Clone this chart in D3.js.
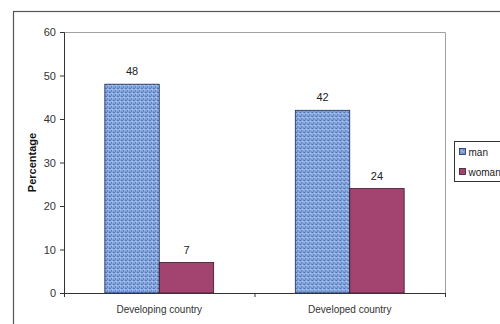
<!DOCTYPE html>
<html>
<head>
<meta charset="utf-8">
<script src="https://cdn.jsdelivr.net/npm/d3@7"></script>
<style>
  body { margin: 0; background: #fff; }
  svg { display: block; font-family: "Liberation Sans", Arial, sans-serif; }
</style>
</head>
<body>
<div id="chart"></div>
<script>
// data
const categories = ['Developing country', 'Developed country'];
const seriesNames = ['man', 'woman'];
const manValues = [48, 42];
const womanValues = [7, 24];
const yTicks = [0, 10, 20, 30, 40, 50, 60];

const W = 500, H = 324;
const M = { top: 32, right: 55, bottom: 31, left: 64 };

const svg = d3.select('#chart').append('svg').attr('width', W).attr('height', H);

// woven texture for the "man" bars
const defs = svg.append('defs');
const pat = defs.append('pattern').attr('id', 'weave')
  .attr('width', 4).attr('height', 4).attr('patternUnits', 'userSpaceOnUse');
pat.append('rect').attr('width', 4).attr('height', 4).attr('fill', '#8eaee2');
pat.append('rect').attr('x', 0).attr('y', 0).attr('width', 2).attr('height', 1).attr('fill', '#4f74b6');
pat.append('rect').attr('x', 2).attr('y', 2).attr('width', 1).attr('height', 2).attr('fill', '#5a7fc0');
pat.append('rect').attr('x', 3).attr('y', 1).attr('width', 1).attr('height', 1).attr('fill', '#b8cdf0');
pat.append('rect').attr('x', 0).attr('y', 3).attr('width', 1).attr('height', 1).attr('fill', '#6a8dcb');

// outer chart frame
svg.append('rect').attr('x', 13.5).attr('y', 11.5).attr('width', 520).attr('height', 340)
  .attr('fill', 'none').attr('stroke', '#555').attr('stroke-width', 1.2);

const x0 = d3.scaleBand().domain(categories).range([M.left, W - M.right]).paddingInner(0);
const y = d3.scaleLinear().domain([0, 60]).range([H - M.bottom, M.top]);
const barW = x0.bandwidth() / 3.5;
const x1 = d3.scaleBand().domain(seriesNames).range([0, barW * 2]);

// plot-area border (top / right)
svg.append('path')
  .attr('d', `M${M.left},${M.top + 0.5}H${W - M.right + 0.5}V${H - M.bottom}`)
  .attr('fill', 'none').attr('stroke', '#a0a0a0').attr('stroke-width', 1);

const rows = categories.map((c, i) => ({ cat: c, vals: [
  { s: 'man', v: manValues[i] }, { s: 'woman', v: womanValues[i] } ] }));

const fills = { man: 'url(#weave)', woman: '#a2446f' };
const strokes = { man: '#1c2b55', woman: '#3b1426' };

const g = svg.selectAll('g.grp').data(rows).enter().append('g')
  .attr('transform', d => `translate(${x0(d.cat) + x0.bandwidth() / 2 - barW},0)`);

g.selectAll('rect').data(d => d.vals).enter().append('rect')
  .attr('x', d => x1(d.s)).attr('y', d => y(d.v))
  .attr('width', barW).attr('height', d => y(0) - y(d.v))
  .attr('fill', d => fills[d.s]).attr('stroke', d => strokes[d.s]).attr('stroke-width', 0.8);

g.selectAll('text').data(d => d.vals).enter().append('text')
  .attr('x', d => x1(d.s) + barW / 2).attr('y', d => y(d.v) - 9)
  .attr('text-anchor', 'middle').attr('font-size', 11).attr('fill', '#222')
  .text(d => d.v);

// y axis
const yAx = svg.append('g').attr('transform', `translate(${M.left},0)`)
  .call(d3.axisLeft(y).tickValues(yTicks).tickSize(4).tickPadding(4));
yAx.select('.domain').attr('stroke', '#333');
yAx.selectAll('.tick line').attr('stroke', '#333');
yAx.selectAll('text').attr('font-size', 11).attr('fill', '#333').attr('font-family', '"Liberation Sans", Arial, sans-serif');

// x axis
const xAx = svg.append('g').attr('transform', `translate(0,${y(0)})`)
  .call(d3.axisBottom(x0).tickSize(0).tickPadding(13));
xAx.select('.domain').attr('stroke', '#333');
xAx.selectAll('text').attr('font-size', 10).attr('fill', '#333').attr('font-family', '"Liberation Sans", Arial, sans-serif');
// category boundary ticks
const bounds = [x0.range()[0], x0(categories[1]), x0.range()[1]];
svg.selectAll('line.bt').data(bounds).enter().append('line')
  .attr('x1', d => d + 0.5).attr('x2', d => d + 0.5)
  .attr('y1', y(0)).attr('y2', y(0) + 4).attr('stroke', '#333');

// y title
svg.append('text').attr('transform', `translate(36,${(M.top + H - M.bottom) / 2}) rotate(-90)`)
  .attr('text-anchor', 'middle').attr('font-size', 11).attr('font-weight', 'bold').attr('fill', '#111')
  .text('Percentage');

// legend
const lg = svg.append('g').attr('transform', 'translate(454.5,141.5)');
lg.append('rect').attr('width', 60).attr('height', 40).attr('fill', '#fff').attr('stroke', '#333');
seriesNames.forEach((s, i) => {
  lg.append('rect').attr('x', 5).attr('y', 7 + i * 20).attr('width', 6).attr('height', 6)
    .attr('fill', fills[s]).attr('stroke', strokes[s]).attr('stroke-width', 0.8);
  lg.append('text').attr('x', 14).attr('y', 14 + i * 20).attr('font-size', 10).attr('fill', '#222').text(s);
});
</script>
</body>
</html>
